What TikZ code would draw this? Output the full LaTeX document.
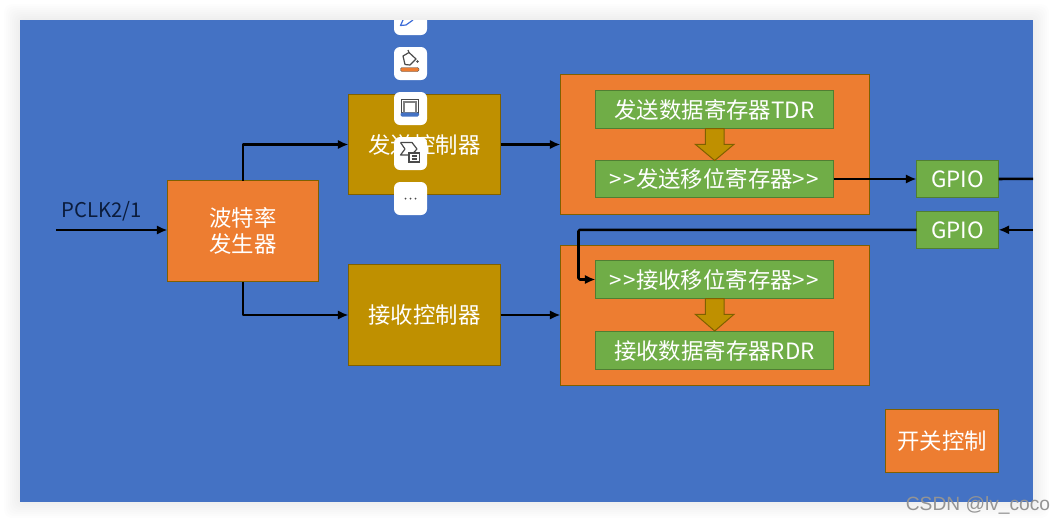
\documentclass[tikz,border=0pt]{standalone}
\usepackage{fontspec}
\setmainfont{Noto Sans CJK SC}
\newfontfamily\wmfont{Liberation Sans}
\usetikzlibrary{arrows.meta}
\definecolor{bgblue}{HTML}{4472C4}
\definecolor{boxorange}{HTML}{ED7D31}
\definecolor{boxgold}{HTML}{BF9000}
\definecolor{boxgreen}{HTML}{70AD47}
\definecolor{edgegold}{HTML}{7F6000}
\definecolor{edgegreen}{HTML}{507E32}
\definecolor{inktext}{HTML}{0B1C3C}
\definecolor{iconblue}{HTML}{3D6CD8}
\definecolor{icongray}{HTML}{4A4A4A}
\newcommand{\pxbox}[7]{% name, style, x1, y1, x2, y2, text
  \pgfmathsetmacro{\bw}{(#5-#3)*0.75}\pgfmathsetmacro{\bh}{(#6-#4)*0.75}
  \node[#2,minimum width=\bw pt,minimum height=\bh pt] (#1) at ({(#3+#5)/2},{(#4+#6)/2}) {#7};}
\tikzset{
  x=0.75pt,y=-0.75pt,
  basebox/.style={rectangle,inner sep=0pt,outer sep=0pt,line width=0.75pt,text=white,font=\fontsize{16.8}{20}\selectfont,align=center},
  orangebox/.style={basebox,fill=boxorange,draw=edgegold},
  goldbox/.style={basebox,fill=boxgold,draw=edgegold},
  greenbox/.style={basebox,fill=boxgreen,draw=edgegreen},
  link/.style={line width=1.9pt,black,line join=round,-{Latex[length=8pt,width=7pt]}},
  plainlink/.style={line width=1.9pt,black},
  blockarrow/.style={fill=boxgold,draw=edgegold,line width=0.75pt,line join=miter},
  card/.style={fill=white,draw=none,rounded corners=4.5pt},
  iconline/.style={draw=icongray,line width=0.9pt,line join=round},
  softshadow/.style={fill=black,fill opacity=0.006,draw=none,rounded corners=6pt}
}
\begin{document}
\begin{tikzpicture}
\useasboundingbox (0,0) rectangle (1053,522);
\fill[white] (0,0) rectangle (1053,522);
% soft page shadow
\foreach \d in {2,4,...,16}{\fill[softshadow] ({20-\d},{20-\d}) rectangle ({1033+\d},{502+\d});}
\fill[bgblue] (20,20) rectangle (1033,502);
% boxes
\pxbox{baud}{orangebox}{167.5}{180.5}{318.5}{281.5}{波特率\\发生器}
\pxbox{txctl}{goldbox}{348.5}{94.5}{500.5}{194.5}{发送控制器}
\pxbox{rxctl}{goldbox}{348.5}{264.5}{500.5}{365.5}{接收控制器}
\pxbox{txgroup}{orangebox}{560.5}{74.5}{869.5}{214.5}{}
\pxbox{rxgroup}{orangebox}{560.5}{245.5}{869.5}{385.5}{}
\pxbox{tdr}{greenbox}{595.5}{90.5}{833.5}{128.5}{发送数据寄存器TDR}
\pxbox{txshift}{greenbox}{595.5}{160.5}{833.5}{197.5}{>\kern1pt>发送移位寄存器>\kern1pt>}
\pxbox{rxshift}{greenbox}{595.5}{260.5}{833.5}{298.5}{>\kern1pt>接收移位寄存器>\kern1pt>}
\pxbox{rdr}{greenbox}{595.5}{331.5}{833.5}{369.5}{接收数据寄存器RDR}
\pxbox{gpioa}{greenbox}{916.5}{160.5}{998.5}{197.5}{GPIO}
\pxbox{gpiob}{greenbox}{916.5}{211.5}{998.5}{248.5}{GPIO}
\pxbox{switch}{orangebox}{885.5}{409.5}{998.5}{472.5}{开关控制}
% clock label
\node[inner sep=0pt,text=inktext,font=\fontsize{15.2}{18}\selectfont] (pclk) at (101.5,211) {PCLK2/1};
% free ends
\coordinate (clkin) at (56,230);
\coordinate (txout) at (1033,178.8);
\coordinate (rxin) at (1033,229.8);
\coordinate (rxbend) at (578.5,229.8);
% connectors
\draw[link] (clkin) -- (clkin -| baud.west);
\draw[link] (baud.north) |- (txctl.west);
\draw[link] (baud.south) |- (rxctl.west);
\draw[link] (txctl.east) -- (txctl.east -| txgroup.west);
\draw[link] (rxctl.east) -- (rxctl.east -| rxgroup.west);
\draw[link] (txshift.east) -- (gpioa.west);
\draw[plainlink] (gpioa.east) -- (txout);
\draw[link] (rxin) -- (rxin -| gpiob.east);
\draw[link,rounded corners=1pt] (gpiob.west |- rxbend) -- (rxbend) |- (rxshift.west);
% block arrows
\draw[blockarrow] (705.3,128.5) -- (724,128.5) -- (724,144.3) -- (734,144.3) -- (714.7,160.5) -- (695.3,144.3) -- (705.3,144.3) -- cycle;
\draw[blockarrow] (705.3,298.5) -- (724,298.5) -- (724,314.3) -- (734,314.3) -- (714.7,331) -- (695.3,314.3) -- (705.3,314.3) -- cycle;
% floating toolbar
\begin{scope}
\clip (380,20) rectangle (440,230);
\fill[card] (394,5) rectangle (427,35);
\draw[draw=iconblue,line width=0.9pt,line join=round] (403,20) -- (400.5,25.5) -- (406,25) -- (413,20);
\end{scope}
\fill[card] (394,47) rectangle (427,80);
\draw[iconline] (403,56) -- (409,52.5) -- (416,59) -- (410,65) -- (405,64.5) -- cycle;
\draw[iconline] (409,52.5) -- (408,50);
\fill[icongray] (417.5,61.5) circle (1.3);
\fill[boxorange,draw=icongray,line width=0.3pt,rounded corners=1pt] (400.5,67.5) rectangle (419,71.5);
\fill[card] (394,92) rectangle (427,125);
\draw[draw=icongray,line width=1pt,fill=white] (401.5,99.5) rectangle (418.5,113);
\draw[draw=gray,line width=0.9pt] (404,102) rectangle (416,113);
\fill[bgblue,rounded corners=1pt] (400.5,112.5) rectangle (419,116.5);
\fill[card] (394,137) rectangle (427,170);
\draw[iconline] (400.5,142.5) -- (412,142.5) -- (417,149) -- (412,154.5);
\draw[iconline] (400.5,142.5) -- (405,149) -- (400.5,155) -- (408,155);
\draw[draw=icongray,line width=1pt,fill=white] (409,153) rectangle (419.5,162);
\draw[draw=icongray,line width=0.8pt] (411.5,156) -- (417,156) (411.5,159) -- (417,159);
\fill[card] (394,182) rectangle (427,215);
\fill[icongray] (405.5,198.5) circle (1) (410.5,198.5) circle (1) (415.5,198.5) circle (1);
% watermark
\node[inner sep=0pt,text=black!42,font=\wmfont\fontsize{14.4}{17}\selectfont] (mark) at (978,505) {CSDN @lv\_coco};
\end{tikzpicture}
\end{document}
